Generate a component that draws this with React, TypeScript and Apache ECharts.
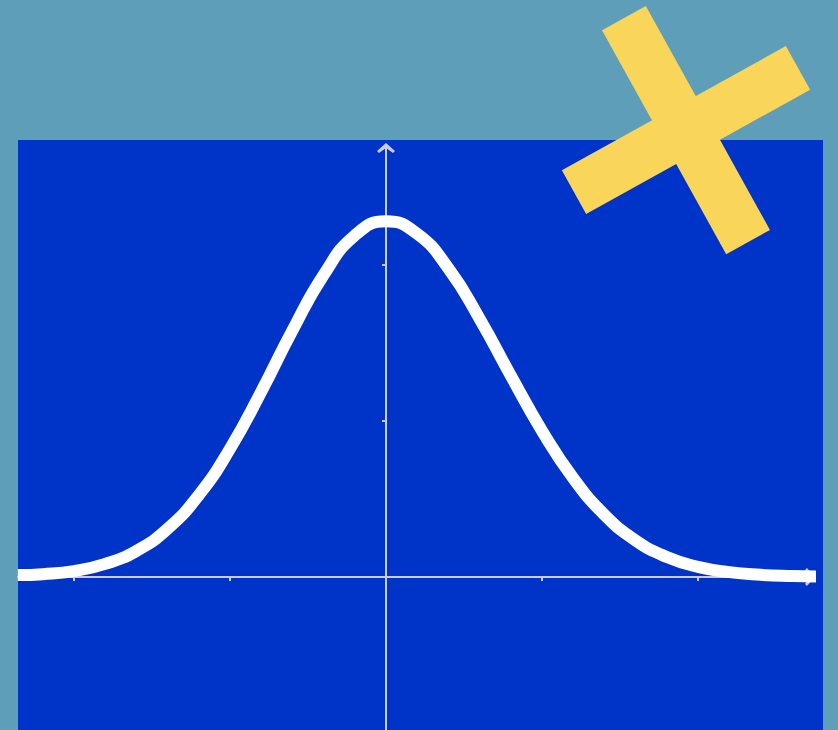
import React, { useEffect, useRef } from "react";
import * as echarts from "echarts";

// Bell curve samples (x in axis units, y in axis units)
const curveX = [-2.36, -2.2, -2.0, -1.8, -1.6, -1.4, -1.2, -1.0, -0.8, -0.6, -0.4, -0.2, 0, 0.2, 0.4, 0.6, 0.8, 1.0, 1.2, 1.4, 1.6, 1.8, 2.0, 2.2, 2.4, 2.6, 2.8];
const curveY = [0.012, 0.018, 0.038, 0.084, 0.167, 0.309, 0.525, 0.822, 1.187, 1.58, 1.936, 2.189, 2.28, 2.2, 1.978, 1.656, 1.291, 0.937, 0.634, 0.399, 0.234, 0.128, 0.065, 0.031, 0.014, 0.006, 0.002];

// Tick marks drawn on each axis
const xTickValues = [-2, -1, 1, 2];
const yTickValues = [1, 2];

// Axis extents
const xRange = [-2.359, 2.718];
const yRange = [-0.981, 2.75];

const AXIS_COLOR = "#c9cce2";
// Open chevron used as the arrow head at the end of each axis
const CHEVRON = "path://M9,0 L18,8 L16,10 L9,5 L2,10 L0,8 Z";

export default function App() {
  const ref = useRef<HTMLDivElement>(null);

  useEffect(() => {
    if (!ref.current) return;
    const chart = echarts.init(ref.current, null, { renderer: "svg" });

    const axisCommon = {
      type: "value" as const,
      axisLine: {
        show: true,
        onZero: true,
        symbol: ["none", CHEVRON],
        symbolSize: [18, 10],
        lineStyle: { color: AXIS_COLOR, width: 2 },
      },
      axisLabel: { show: false },
      splitLine: { show: false },
    };

    chart.setOption({
      animation: false,
      backgroundColor: "#5f9eb8",
      grid: { left: 18, top: 148, width: 792, height: 582 },
      xAxis: {
        ...axisCommon,
        min: xRange[0],
        max: xRange[1],
        axisTick: {
          show: true,
          customValues: xTickValues,
          length: 4,
          lineStyle: { color: AXIS_COLOR, width: 2 },
        },
      },
      yAxis: {
        ...axisCommon,
        min: yRange[0],
        max: yRange[1],
        axisTick: {
          show: true,
          customValues: yTickValues,
          length: 4,
          lineStyle: { color: AXIS_COLOR, width: 2 },
        },
      },
      series: [
        {
          type: "line",
          data: curveX.map((x, i) => [x, curveY[i]]),
          smooth: true,
          showSymbol: false,
          clip: false,
          z: 5,
          lineStyle: { color: "#ffffff", width: 12, join: "round" },
        },
      ],
      graphic: [
        {
          type: "rect",
          z: -10,
          shape: { x: 18, y: 140, width: 805, height: 590 },
          style: { fill: "#0033c8" },
        },
        {
          type: "group",
          x: 686,
          y: 130,
          rotation: (29 * Math.PI) / 180,
          z: 100,
          children: [
            {
              type: "rect",
              z: 100,
              shape: { x: -128, y: -25, width: 256, height: 50 },
              style: { fill: "#f9d65a" },
            },
            {
              type: "rect",
              z: 100,
              shape: { x: -25, y: -128, width: 50, height: 256 },
              style: { fill: "#f9d65a" },
            },
          ],
        },
      ],
    });

    return () => chart.dispose();
  }, []);

  return (
    <div
      ref={ref}
      style={{ position: "fixed", left: 0, top: 0, width: 838, height: 730 }}
    />
  );
}
